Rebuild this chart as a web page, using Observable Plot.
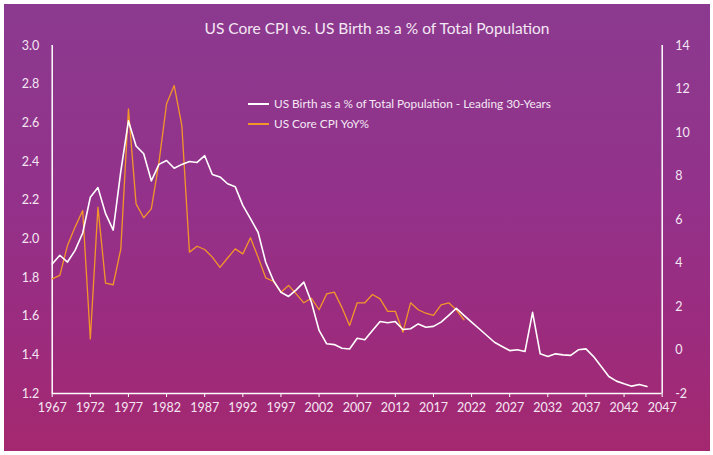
<!DOCTYPE html>
<html>
<head>
<meta charset="utf-8">
<script src="https://cdn.jsdelivr.net/npm/d3@7"></script>
<script src="https://cdn.jsdelivr.net/npm/@observablehq/plot@0.6"></script>
<style>
  html, body { margin: 0; padding: 0; background: #ffffff; }
  #wrap { position: relative; width: 713px; height: 455px; overflow: hidden; font-family: Lato, "Open Sans", sans-serif; }
  #bg { position: absolute; left: 4px; top: 4px; width: 706px; height: 447px;
        background: linear-gradient(180deg, #8b3a8f 0%, #94318a 45%, #9c2b7d 75%, #a4286f 100%); }
  #chart { position: absolute; left: 0; top: 0; }
  #title { position: absolute; left: 0; width: 754px; top: 19px; text-align: center; color: #f4e8f4; font-size: 15.5px; }
  .leg { position: absolute; left: 248px; color: #f4e8f4; font-size: 11.8px; display: flex; align-items: center; white-space: nowrap; }
  .leg .sw { display: inline-block; width: 21px; height: 0; margin-right: 5px; }
</style>
</head>
<body>
<div id="wrap">
  <div id="bg"></div>
  <div id="chart"></div>
  <div id="title">US Core CPI vs. US Birth as a % of Total Population</div>
  <div class="leg" style="top:96px"><span class="sw" style="border-top:2px solid #ffffff"></span>US Birth as a % of Total Population - Leading 30-Years</div>
  <div class="leg" style="top:116px"><span class="sw" style="border-top:2px solid #f3962a"></span>US Core CPI YoY%</div>
</div>
<script>
// US Birth as a % of Total Population - Leading 30-Years (left axis)
const birthYears = d3.range(1967, 2046);
const birthValues = [
  1.87, 1.915, 1.88, 1.94, 2.03, 2.215, 2.265, 2.13, 2.045, 2.35,
  2.61, 2.48, 2.44, 2.30, 2.385, 2.405, 2.365, 2.385, 2.40, 2.395,
  2.43, 2.333, 2.32, 2.285, 2.27, 2.173, 2.104, 2.034, 1.879, 1.785,
  1.724, 1.702, 1.736, 1.776, 1.672, 1.526, 1.457, 1.453, 1.434, 1.43,
  1.486, 1.478, 1.526, 1.572, 1.566, 1.572, 1.531, 1.535, 1.56, 1.543,
  1.547, 1.569, 1.604, 1.641, 1.604, 1.569, 1.535, 1.50, 1.465, 1.443,
  1.422, 1.426, 1.417, 1.62, 1.405, 1.391, 1.405, 1.40, 1.397, 1.426,
  1.431, 1.391, 1.34, 1.288, 1.264, 1.25, 1.238, 1.247, 1.236
];

// US Core CPI YoY% (right axis)
const cpiYears = d3.range(1967, 2022);
const cpiValues = [
  3.27, 3.43, 4.80, 5.65, 6.41, 0.51, 6.57, 3.07, 3.00, 4.65,
  11.09, 6.72, 6.08, 6.49, 8.63, 11.32, 12.16, 10.32, 4.50, 4.77,
  4.62, 4.27, 3.80, 4.23, 4.65, 4.42, 5.16, 4.27, 3.32, 3.16,
  2.66, 2.97, 2.58, 2.17, 2.38, 1.85, 2.58, 2.66, 1.95, 1.13,
  2.17, 2.17, 2.55, 2.35, 1.78, 1.78, 0.82, 2.17, 1.85, 1.69,
  1.59, 2.08, 2.17, 1.85, 1.39
];

const xTicks = d3.range(1967, 2048, 5);
const leftTicks = [1.2, 1.4, 1.6, 1.8, 2.0, 2.2, 2.4, 2.6, 2.8, 3.0];
const rightTicks = [-2, 0, 2, 4, 6, 8, 10, 12, 14];

const leftDomain = [1.2, 3.0];
const rightDomain = [-2, 14];
// map right-axis values into left-axis units (dual axis)
const toLeft = v => leftDomain[0] + (v - rightDomain[0]) * (leftDomain[1] - leftDomain[0]) / (rightDomain[1] - rightDomain[0]);
const fromLeft = v => rightDomain[0] + (v - leftDomain[0]) * (rightDomain[1] - rightDomain[0]) / (leftDomain[1] - leftDomain[0]);

const birth = birthYears.map((y, i) => ({year: y, value: birthValues[i]}));
const cpi = cpiYears.map((y, i) => ({year: y, value: toLeft(cpiValues[i])}));

const textColor = "#f4e6f3";

const plot = Plot.plot({
  width: 713,
  height: 455,
  marginLeft: 51.7,
  marginRight: 51.3,
  marginTop: 45,
  marginBottom: 62,
  style: {background: "none", color: textColor, fontFamily: "Lato, 'Open Sans', sans-serif", fontSize: "12.5px", overflow: "visible"},
  x: {domain: [1967, 2047]},
  y: {domain: leftDomain},
  marks: [
    Plot.axisX({ticks: xTicks, tickFormat: d => String(d), tickSize: 4, tickPadding: 6, stroke: "#ffffff", fill: textColor, label: null, fontSize: 12.5}),
    Plot.axisY({ticks: leftTicks, tickFormat: d3.format(".1f"), tickSize: 0, tickPadding: 13, fill: textColor, label: null, anchor: "left", fontSize: 12.5}),
    Plot.axisY({ticks: rightTicks.map(toLeft), tickFormat: d => String(Math.round(fromLeft(d))), tickSize: 0, tickPadding: 13, fill: textColor, label: null, anchor: "right", fontSize: 12.5}),
    Plot.ruleX([1967], {y1: leftDomain[0], y2: leftDomain[1], stroke: "#ffffff", strokeWidth: 1.5}),
    Plot.ruleX([2047], {y1: leftDomain[0], y2: leftDomain[1], stroke: "#ffffff", strokeWidth: 1.5}),
    Plot.ruleY([leftDomain[0]], {x1: 1967, x2: 2047, stroke: "#ffffff", strokeWidth: 1.5}),
    Plot.line(cpi, {x: "year", y: "value", stroke: "#f3962a", strokeWidth: 1.3}),
    Plot.line(birth, {x: "year", y: "value", stroke: "#ffffff", strokeWidth: 1.6})
  ]
});
document.getElementById("chart").appendChild(plot);
</script>
</body>
</html>
